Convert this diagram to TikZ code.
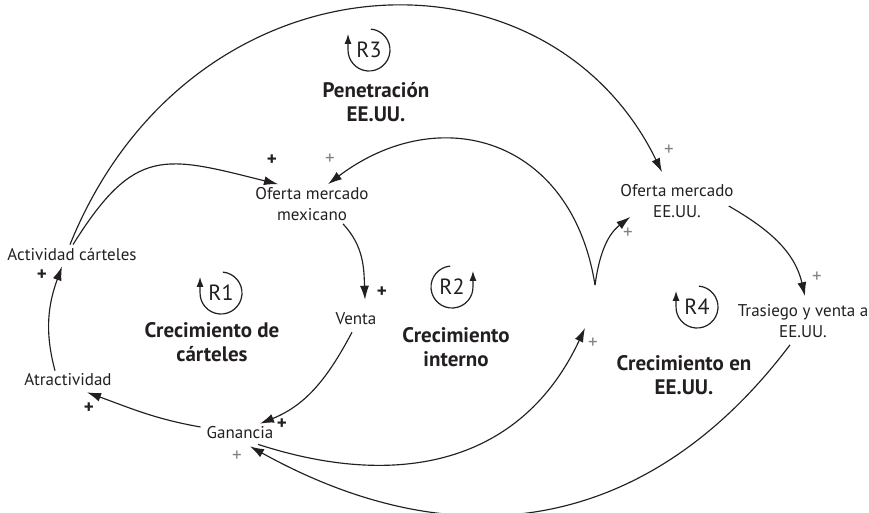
\documentclass[tikz,border=0pt]{standalone}
\usepackage{fontspec}
\setmainfont{PT Sans}
\usetikzlibrary{arrows.meta}

\definecolor{ink}{HTML}{231F20}
\definecolor{plusgray}{HTML}{808080}

\begin{document}
\begin{tikzpicture}
	[   x=1pt,y=1pt,
	    var/.style={text=ink,align=center,inner sep=3pt,font=\fontsize{17}{21}\selectfont},
	    loopname/.style={text=ink,inner sep=0pt,font=\fontsize{22}{24}\selectfont},
	    looptitle/.style={text=ink,align=center,font=\fontsize{21}{24}\selectfont\bfseries},
	    plus/.style={text=ink,inner sep=0pt,font=\fontsize{19}{19}\selectfont\bfseries},
	    gray plus/.style={text=plusgray,inner sep=0pt,font=\fontsize{19}{19}\selectfont},
	    loop arrow/.style={draw=ink,line width=1.2pt,-{Latex[length=10pt,width=7pt]}},
	]
	\tikzset{normal arrow/.style={draw=ink,line width=1.15pt,-{Latex[length=14pt,width=9pt]}}}
	\useasboundingbox (0,0) rectangle (869,-512);

	% variables
	\node[var] (act) at (72,-254) {Actividad cárteles};
	\node[var] (atr) at (68,-380) {Atractividad};
	\node[var] (gan) at (240,-433) {Ganancia};
	\node[var] (ven) at (356,-319) {Venta};
	\node[var] (omm) at (312,-204) {Oferta mercado\\mexicano};
	\node[var] (ome) at (677,-201) {Oferta mercado\\EE.UU.};
	\node[var] (tra) at (803,-321) {Trasiego y venta a\\EE.UU.};
	\coordinate (inv) at (595,-285);

	% loop titles
	\node[looptitle] (t-1) at (212,-342) {Crecimiento de\\cárteles};
	\node[looptitle] (t-2) at (456,-347) {Crecimiento\\interno};
	\node[looptitle] (t-3) at (376,-102) {Penetración\\EE.UU.};
	\node[looptitle] (t-4) at (684,-375) {Crecimiento en\\EE.UU.};

	% loop markers
	\foreach \n/\x/\y in {1/221/293, 3/369/50, 4/697/307}
	{
		\node[loopname] (r-\n) at (\x,-\y) {R\n};
		\path[loop arrow] ([shift={(85:21pt)}]r-\n.center) arc[start angle=85,end angle=-183,radius=21pt] -- ++(0,15);
	}
	\node[loopname] (r-2) at (452,-287) {R2};
	\path[loop arrow] ([shift={(95:21pt)}]r-2.center) arc[start angle=95,end angle=363,radius=21pt] -- ++(0,15);

	% links
	\path[normal arrow] ([xshift=1pt]act.north) to[out=58,in=166,looseness=1.4] ([xshift=-34pt]omm.north);
	\path[normal arrow] ([xshift=-2pt]act.north) to[out=68,in=116,out looseness=1.37,in looseness=1.14] ([xshift=-15pt,yshift=9pt]ome.north);
	\path[normal arrow] ([xshift=-13pt]atr.north) to[out=105,in=-110] ([xshift=-10pt,yshift=-3pt]act.south);
	\path[normal arrow] ([xshift=-3pt,yshift=6pt]gan.west) to[out=170,in=-20] ([xshift=19pt,yshift=-3pt]atr.south);
	\path[normal arrow] ([xshift=-4pt,yshift=-4pt]ven.south) to[out=-118,in=22] ([xshift=20pt]gan.north);
	\path[normal arrow] ([xshift=31pt]omm.south) to[out=-47,in=92] ([xshift=9pt,yshift=10pt]ven.north);
	\path[normal arrow] ([xshift=18pt,yshift=-2pt]gan.south) to[out=-18,in=-115,looseness=1.1] ([xshift=-10pt,yshift=-43pt]inv);
	\path[normal arrow] (inv) to[out=99,in=37,out looseness=1.34,in looseness=1.25] ([xshift=16pt]omm.north);
	\path[normal arrow] (inv) to[out=82,in=-142] ([xshift=13pt,yshift=4pt]ome.south west);
	\path[normal arrow] ([xshift=-8pt,yshift=-5pt]ome.east) to[out=-30,in=103] ([xshift=2pt,yshift=5pt]tra.north);
	\path[normal arrow] ([xshift=-13pt,yshift=-4pt]tra.south) to[out=-127,in=-29,looseness=1.1] ([xshift=10pt,yshift=-4pt]gan.south);

	% polarities
	\foreach \n/\x/\y in {1/272/160, 3/42/275, 4/89/408, 5/282/424, 6/382/292}
		\node[plus] (plus-\n) at (\x,-\y) {+};
	\foreach \n/\x/\y in {2/669/150, 7/593/343, 8/330/159, 9/628/233, 10/817/277, 11/237/456}
		\node[gray plus] (plus-\n) at (\x,-\y) {+};
\end{tikzpicture}
\end{document}
